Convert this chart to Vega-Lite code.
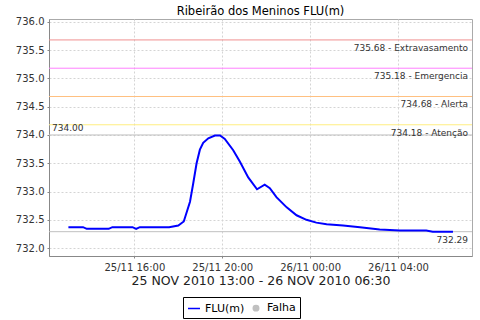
{
  "$schema": "https://vega.github.io/schema/vega-lite/v6.json",
  "width": 423,
  "height": 237,
  "autosize": {"type": "none"},
  "padding": {"left": 49, "top": 19, "right": 8, "bottom": 64},
  "background": "white",
  "title": {"text": "Ribeirão dos Meninos FLU(m)", "font": "DejaVu Sans", "fontSize": 11.5, "fontWeight": "normal", "color": "#000000", "anchor": "middle", "offset": 6, "dy": 7},
  "datasets": {
    "serie": [
      {"t": "2010-11-25T13:00:00", "v": 732.37, "serie": "FLU(m)"},
      {"t": "2010-11-25T13:40:00", "v": 732.37, "serie": "FLU(m)"},
      {"t": "2010-11-25T13:50:00", "v": 732.34, "serie": "FLU(m)"},
      {"t": "2010-11-25T14:50:00", "v": 732.34, "serie": "FLU(m)"},
      {"t": "2010-11-25T15:00:00", "v": 732.37, "serie": "FLU(m)"},
      {"t": "2010-11-25T15:55:00", "v": 732.37, "serie": "FLU(m)"},
      {"t": "2010-11-25T16:05:00", "v": 732.34, "serie": "FLU(m)"},
      {"t": "2010-11-25T16:15:00", "v": 732.37, "serie": "FLU(m)"},
      {"t": "2010-11-25T17:35:00", "v": 732.37, "serie": "FLU(m)"},
      {"t": "2010-11-25T18:00:00", "v": 732.40, "serie": "FLU(m)"},
      {"t": "2010-11-25T18:15:00", "v": 732.47, "serie": "FLU(m)"},
      {"t": "2010-11-25T18:32:00", "v": 732.82, "serie": "FLU(m)"},
      {"t": "2010-11-25T18:41:00", "v": 733.15, "serie": "FLU(m)"},
      {"t": "2010-11-25T18:50:00", "v": 733.50, "serie": "FLU(m)"},
      {"t": "2010-11-25T18:59:00", "v": 733.74, "serie": "FLU(m)"},
      {"t": "2010-11-25T19:08:00", "v": 733.86, "serie": "FLU(m)"},
      {"t": "2010-11-25T19:22:00", "v": 733.94, "serie": "FLU(m)"},
      {"t": "2010-11-25T19:40:00", "v": 733.99, "serie": "FLU(m)"},
      {"t": "2010-11-25T19:54:00", "v": 733.99, "serie": "FLU(m)"},
      {"t": "2010-11-25T20:07:00", "v": 733.93, "serie": "FLU(m)"},
      {"t": "2010-11-25T20:30:00", "v": 733.73, "serie": "FLU(m)"},
      {"t": "2010-11-25T20:48:00", "v": 733.53, "serie": "FLU(m)"},
      {"t": "2010-11-25T21:11:00", "v": 733.25, "serie": "FLU(m)"},
      {"t": "2010-11-25T21:35:00", "v": 733.04, "serie": "FLU(m)"},
      {"t": "2010-11-25T21:56:00", "v": 733.12, "serie": "FLU(m)"},
      {"t": "2010-11-25T22:10:00", "v": 733.06, "serie": "FLU(m)"},
      {"t": "2010-11-25T22:28:00", "v": 732.90, "serie": "FLU(m)"},
      {"t": "2010-11-25T22:56:00", "v": 732.72, "serie": "FLU(m)"},
      {"t": "2010-11-25T23:23:00", "v": 732.58, "serie": "FLU(m)"},
      {"t": "2010-11-25T23:50:00", "v": 732.50, "serie": "FLU(m)"},
      {"t": "2010-11-26T00:17:00", "v": 732.45, "serie": "FLU(m)"},
      {"t": "2010-11-26T00:45:00", "v": 732.42, "serie": "FLU(m)"},
      {"t": "2010-11-26T01:30:00", "v": 732.40, "serie": "FLU(m)"},
      {"t": "2010-11-26T02:16:00", "v": 732.37, "serie": "FLU(m)"},
      {"t": "2010-11-26T03:10:00", "v": 732.33, "serie": "FLU(m)"},
      {"t": "2010-11-26T04:05:00", "v": 732.31, "serie": "FLU(m)"},
      {"t": "2010-11-26T05:17:00", "v": 732.31, "serie": "FLU(m)"},
      {"t": "2010-11-26T05:35:00", "v": 732.29, "serie": "FLU(m)"},
      {"t": "2010-11-26T06:30:00", "v": 732.29, "serie": "FLU(m)"}
    ],
    "limites": [
      {"valor": 735.68, "rotulo": "735.68 - Extravasamento", "nivel": "Extravasamento"},
      {"valor": 735.18, "rotulo": "735.18 - Emergencia", "nivel": "Emergencia"},
      {"valor": 734.68, "rotulo": "734.68 - Alerta", "nivel": "Alerta"},
      {"valor": 734.18, "rotulo": "734.18 - Atenção", "nivel": "Atenção"},
      {"valor": 734.00, "rotulo": "734.00", "nivel": "Maximo"},
      {"valor": 732.29, "rotulo": "732.29", "nivel": "Atual"}
    ]
  },
  "layer": [
    {
      "data": {"name": "limites"},
      "mark": {"type": "rule", "strokeWidth": 1},
      "encoding": {
        "y": {"field": "valor", "type": "quantitative",
          "scale": {"domain": [731.86, 736.05], "nice": false, "zero": false},
          "axis": {
            "values": [732, 732.5, 733, 733.5, 734, 734.5, 735, 735.5, 736],
            "tickCount": 9,
            "format": ".1f", "title": null, "labelOverlap": false, "labelFlush": false,
            "labelFont": "DejaVu Sans", "labelFontSize": 10, "labelColor": "#333333", "labelPadding": 3,
            "tickSize": 2, "tickColor": "#888888", "domainColor": "#888888",
            "grid": true, "gridColor": "#d4d4d4", "gridDash": [2, 2]
          }},
        "color": {"field": "nivel", "type": "nominal", "legend": null,
          "scale": {"domain": ["Extravasamento", "Emergencia", "Alerta", "Atenção", "Maximo", "Atual"],
                    "range": ["#f09090", "#ff80ff", "#ffc080", "#ffee80", "#c0c0c0", "#c0c0c0"]}}
      }
    },
    {
      "data": {"name": "limites"},
      "transform": [{"filter": "datum.nivel !== 'Maximo'"}],
      "mark": {"type": "text", "align": "right", "baseline": "top", "dx": -4, "dy": 4, "font": "DejaVu Sans", "fontSize": 9, "color": "#333333"},
      "encoding": {
        "x": {"datum": {"year": 2010, "month": 11, "date": 26, "hours": 7, "minutes": 22}, "type": "temporal"},
        "y": {"field": "valor", "type": "quantitative"},
        "text": {"field": "rotulo"}
      }
    },
    {
      "data": {"name": "limites"},
      "transform": [{"filter": "datum.nivel === 'Maximo'"}],
      "mark": {"type": "text", "align": "left", "baseline": "alphabetic", "dx": 3, "dy": -4, "font": "DejaVu Sans", "fontSize": 9, "color": "#333333"},
      "encoding": {
        "x": {"datum": {"year": 2010, "month": 11, "date": 25, "hours": 12, "minutes": 7}, "type": "temporal"},
        "y": {"field": "valor", "type": "quantitative"},
        "text": {"field": "rotulo"}
      }
    },
    {
      "data": {"name": "serie"},
      "mark": {"type": "line", "strokeWidth": 2, "interpolate": "linear"},
      "encoding": {
        "x": {"field": "t", "type": "temporal",
          "scale": {"domain": [{"year": 2010, "month": 11, "date": 25, "hours": 12, "minutes": 7}, {"year": 2010, "month": 11, "date": 26, "hours": 7, "minutes": 22}]},
          "axis": {
            "values": [{"year": 2010, "month": 11, "date": 25, "hours": 16}, {"year": 2010, "month": 11, "date": 25, "hours": 20}, {"year": 2010, "month": 11, "date": 26, "hours": 0}, {"year": 2010, "month": 11, "date": 26, "hours": 4}],
            "format": "%d/%m %H:%M",
            "title": "25 NOV 2010 13:00 - 26 NOV 2010 06:30",
            "titleFont": "DejaVu Sans", "titleFontSize": 12.5, "titleFontWeight": "normal", "titleColor": "#222222", "titlePadding": 2,
            "labelFont": "DejaVu Sans", "labelFontSize": 10, "labelColor": "#333333", "labelPadding": 4,
            "tickSize": 2, "tickColor": "#888888", "domainColor": "#888888",
            "grid": true, "gridColor": "#d4d4d4", "gridDash": [2, 2]
          }},
        "y": {"field": "v", "type": "quantitative",
          "scale": {"domain": [731.86, 736.05], "nice": false, "zero": false},
          "axis": {
            "values": [732, 732.5, 733, 733.5, 734, 734.5, 735, 735.5, 736],
            "tickCount": 9,
            "format": ".1f", "title": null, "labelOverlap": false, "labelFlush": false,
            "labelFont": "DejaVu Sans", "labelFontSize": 10, "labelColor": "#333333", "labelPadding": 3,
            "tickSize": 2, "tickColor": "#888888", "domainColor": "#888888",
            "grid": true, "gridColor": "#d4d4d4", "gridDash": [2, 2]
          }},
        "color": {"field": "serie", "type": "nominal",
          "scale": {"domain": ["FLU(m)", "Falha"], "range": ["#0000ff", "#c0c0c0"]},
          "legend": {
            "title": null, "orient": "none", "legendX": 134, "legendY": 278, "direction": "horizontal",
            "strokeColor": "#000000", "padding": 4, "labelFont": "DejaVu Sans", "labelFontSize": 11, "labelColor": "#000000",
            "columnPadding": 4, "symbolSize": 144,
            "encode": {"symbols": {"update": {
              "shape": {"signal": "datum.value === 'Falha' ? 'circle' : 'stroke'"},
              "size": {"signal": "datum.value === 'Falha' ? 30 : 144"},
              "fill": {"signal": "datum.value === 'Falha' ? '#c0c0c0' : 'transparent'"},
              "stroke": {"signal": "datum.value === 'Falha' ? '#c0c0c0' : '#0000ff'"},
              "strokeWidth": {"value": 1.5}
            }}}
          }}
      }
    }
  ],
  "resolve": {"scale": {"color": "independent"}},
  "config": {
    "view": {"stroke": "#aaaaaa"},
    "axis": {"gridDash": [2, 2]}
  }
}
